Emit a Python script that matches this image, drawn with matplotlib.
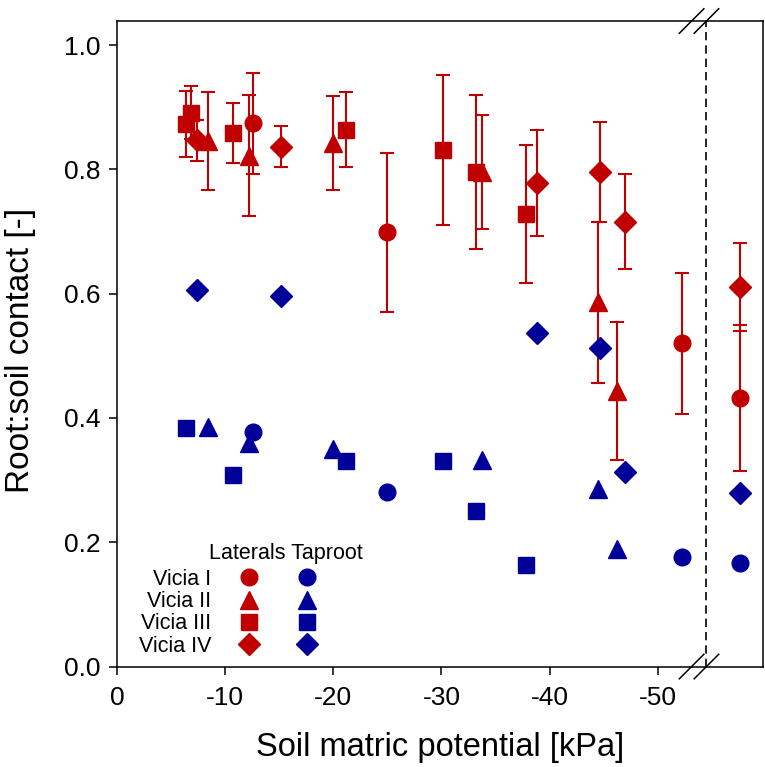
import numpy as np
import matplotlib
matplotlib.use('Agg')
import matplotlib.pyplot as plt
from matplotlib.lines import Line2D

plt.rcParams['font.family'] = ['Liberation Sans', 'DejaVu Sans']
plt.rcParams['axes.unicode_minus'] = False

red = '#C00000'
blue = '#000099'

# soil matric potential positions (kPa, as drawn; last column is behind the axis break)
x_v1 = [-12.6, -25.0, -52.2, -57.6]
lat_v1 = [0.874, 0.699, 0.520, 0.432]
err_v1 = [0.081, 0.128, 0.113, 0.117]
tap_v1 = [0.378, 0.280, 0.177, 0.166]

x_v2 = [-8.4, -12.2, -20.0, -33.7, -44.5, -46.2]
lat_v2 = [0.845, 0.822, 0.842, 0.796, 0.586, 0.443]
err_v2 = [0.079, 0.097, 0.076, 0.092, 0.130, 0.111]
tap_v2 = [0.385, 0.360, 0.350, 0.332, 0.285, 0.189]

x_v3 = [-6.4, -6.8, -10.7, -21.2, -30.1, -33.2, -37.8]
lat_v3 = [0.873, 0.891, 0.858, 0.864, 0.831, 0.795, 0.728]
err_v3 = [0.053, 0.043, 0.048, 0.060, 0.120, 0.124, 0.111]
tap_v3 = [0.384, np.nan, 0.308, 0.331, 0.330, 0.251, 0.164]

x_v4 = [-7.4, -15.2, -38.8, -44.7, -47.0, -57.6]
lat_v4 = [0.847, 0.836, 0.778, 0.796, 0.716, 0.611]
err_v4 = [0.033, 0.033, 0.085, 0.080, 0.076, 0.071]
tap_v4 = [0.606, 0.596, 0.536, 0.512, 0.313, 0.279]

names = ['Vicia I', 'Vicia II', 'Vicia III', 'Vicia IV']
markers = ['o', '^', 's', 'D']
msizes = [12, 13, 11.3, 10.7]
x_break = -54.5

groups = [(x_v1, lat_v1, err_v1, tap_v1),
          (x_v2, lat_v2, err_v2, tap_v2),
          (x_v3, lat_v3, err_v3, tap_v3),
          (x_v4, lat_v4, err_v4, tap_v4)]

fig = plt.figure(figsize=(7.65, 7.67), dpi=100)
ax = fig.add_axes([0.153, 0.131, 0.844, 0.8416])

draw_order = [3, 1, 2, 0]
for i in draw_order:
    x, lat, err, tap = groups[i]
    ax.errorbar(x, lat, yerr=err, fmt=markers[i], color=red, ms=msizes[i],
                elinewidth=1.5, capsize=5, capthick=1.5, mec=red, zorder=3)
for i in draw_order:
    x, lat, err, tap = groups[i]
    ax.plot(x, tap, markers[i], color=blue, ms=msizes[i], mec=blue, zorder=4)

ax.axvline(x_break, color='black', lw=1.2, ls=(0, (5, 3)), zorder=2)

ax.set_xlim(0, -59.7)
ax.set_ylim(0, 1.0386)
ax.set_xticks([0, -10, -20, -30, -40, -50])
ax.set_yticks([0.0, 0.2, 0.4, 0.6, 0.8, 1.0])
ax.set_yticklabels(['0.0', '0.2', '0.4', '0.6', '0.8', '1.0'])
ax.tick_params(direction='out', length=6, width=1.1, labelsize=19)
ax.tick_params(axis='x', pad=8)
ax.tick_params(axis='y', pad=6)
for s in ax.spines.values():
    s.set_linewidth(1.1)

ax.set_xlabel('Soil matric potential [kPa]', fontsize=23.5, labelpad=16)
ax.set_ylabel('Root:soil contact [-]', fontsize=24)
ax.yaxis.set_label_coords(-0.126, 0.49)

# axis break marks
xb = (0 - x_break) / 59.7
d = 0.019
for y0 in (0, 1):
    for off in (-0.023, 0.0):
        ax.plot([xb + off - d, xb + off + d], [y0 - d, y0 + d], color='black',
                lw=1.1, transform=ax.transAxes, clip_on=False, zorder=5)

# legend: labels with laterals column and taproot column
handles = [Line2D([], [], ls='none', marker=m, color=red, ms=s) for m, s in zip(markers, msizes)]
handles += [Line2D([], [], ls='none', marker=m, color=blue, ms=s) for m, s in zip(markers, msizes)]
labels = names + [''] * 4
ax.legend(handles, labels, ncol=2, markerfirst=False, frameon=False, fontsize=15.5,
          handlelength=1.0, handletextpad=1.27, columnspacing=0.43, labelspacing=0.06,
          loc='lower left', bbox_to_anchor=(0.02, 0.002), borderaxespad=0)
ax.text(0.261, 0.175, 'Laterals Taproot', transform=ax.transAxes, fontsize=15.5,
        ha='center', va='center')

fig.savefig('out.png', dpi=100)
